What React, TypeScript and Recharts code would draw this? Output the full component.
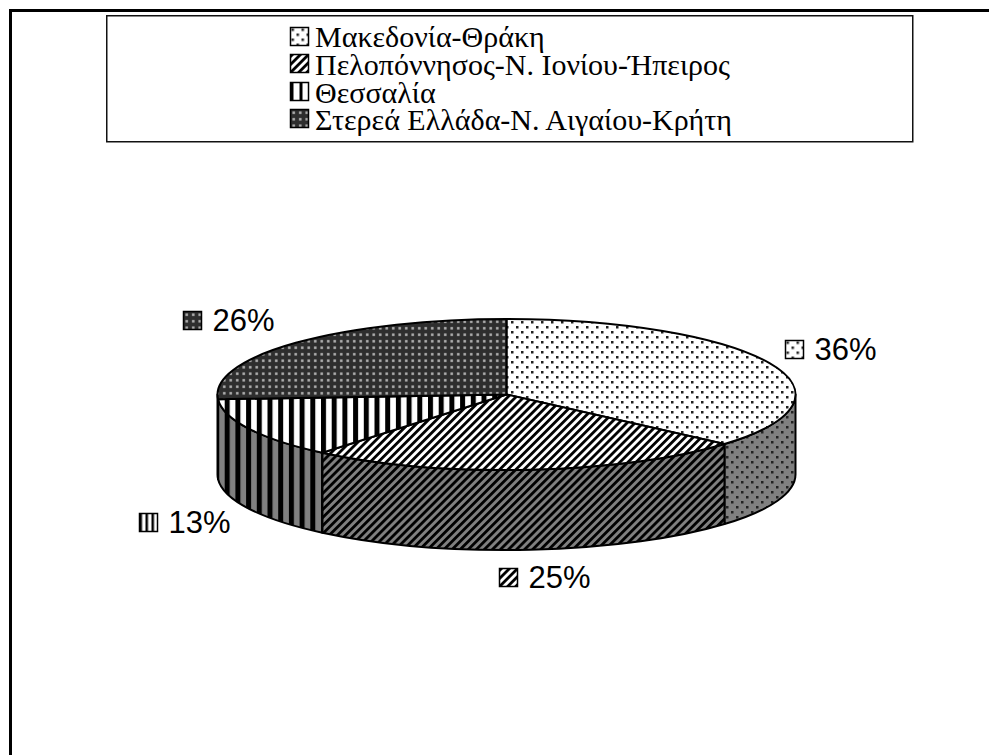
import React from "react";
import { Legend, Pie, PieChart } from "recharts";

const regions = [
  "Μακεδονία-Θράκη",
  "Πελοπόννησος-Ν. Ιονίου-Ήπειρος",
  "Θεσσαλία",
  "Στερεά Ελλάδα-Ν. Αιγαίου-Κρήτη",
];
// the labels show them rounded
const shares = [36.4, 24.6, 13, 26];

const data = regions.map((name, index) => ({ name, value: shares[index], index }));

const CX = 506.5;
const CY = 394.5;
const RX = 289;
const SQUASH = 75.5 / 289;
const DEPTH = 80;
const RAD = Math.PI / 180;

// top-left of each percent swatch, measured from the middle of its slice
const LABEL_OFFSET = [
  [15, -23],
  [-31, 98],
  [-110, 84],
  [-113, -32],
];

const pt = (cx: number, cy: number, r: number, deg: number) => [
  cx + r * Math.cos(deg * RAD),
  cy - r * SQUASH * Math.sin(deg * RAD),
];

// one slice of the flattened pie: the top face and, if it faces us, the wall
function Slice3D(props: any) {
  const { cx, cy, outerRadius: r, startAngle, endAngle, index } = props;
  const [x0, y0] = pt(cx, cy, r, startAngle);
  const [x1, y1] = pt(cx, cy, r, endAngle);
  const ry = r * SQUASH;
  const large = Math.abs(startAngle - endAngle) > 180 ? 1 : 0;
  const top = `M${cx},${cy}L${x0},${y0}A${r},${ry} 0 ${large} 1 ${x1},${y1}Z`;

  // the front of the pie runs from 0 to -180 in recharts angles
  const wallStart = Math.min(startAngle, 0);
  const wallEnd = Math.max(endAngle, -180);
  let wall = null;
  if (wallStart > wallEnd) {
    const [wx0, wy0] = pt(cx, cy, r, wallStart);
    const [wx1, wy1] = pt(cx, cy, r, wallEnd);
    wall = (
      <path
        d={`M${wx0},${wy0}A${r},${ry} 0 0 1 ${wx1},${wy1}L${wx1},${wy1 + DEPTH}A${r},${ry} 0 0 0 ${wx0},${wy0 + DEPTH}Z`}
        fill={`url(#wall${index})`}
        stroke="#000"
        strokeWidth={2}
        strokeLinejoin="round"
      />
    );
  }
  return (
    <g>
      {wall}
      <path d={top} fill={`url(#top${index})`} stroke="#000" strokeWidth={2} strokeLinejoin="round" />
    </g>
  );
}

// drawn at 0,0 under a translate so the pattern starts at the swatch corner
function Swatch({ x, y, fill }: { x: number; y: number; fill: string }) {
  return (
    <g transform={`translate(${x},${y})`}>
      <rect width={18} height={18} fill={`url(#${fill})`} stroke="#000" strokeWidth={1.5} />
    </g>
  );
}

function PercentLabel(props: any) {
  const { cx, cy, outerRadius, midAngle, value, index } = props;
  const [mx, my] = pt(cx, cy, outerRadius, midAngle);
  const x = Math.round(mx + LABEL_OFFSET[index][0]) + 0.5;
  const y = Math.round(my + LABEL_OFFSET[index][1]) + 0.5;
  return (
    <g>
      <Swatch x={x} y={y} fill={index === 2 ? "label2" : `top${index}`} />
      <text x={x + 29} y={y + 19} fontFamily="Liberation Sans" fontSize={31} fill="#000">
        {Math.round(value)}%
      </text>
    </g>
  );
}

function LegendBox() {
  return (
    <svg width={808} height={128} style={{ display: "block" }}>
      <rect x={0.75} y={0.75} width={806} height={126} fill="#fff" stroke="#111" strokeWidth={1.5} />
      {regions.map((name, i) => (
        <g key={name}>
          <Swatch x={184.5} y={12.5 + Math.round(i * 27.3)} fill={i === 2 ? "legend2" : `top${i}`} />
          <text x={209} y={32 + i * 27.8} fontFamily="Liberation Serif" fontSize={30} fill="#000">
            {name}
          </text>
        </g>
      ))}
    </svg>
  );
}

function Patterns() {
  const dots = (id: string, bg: string) => (
    <pattern id={id} width={10} height={10} patternUnits="userSpaceOnUse">
      <rect width={10} height={10} fill={bg} />
      <rect x={1} y={1} width={2.5} height={2.5} fill="#222" />
      <rect x={6} y={6} width={2.5} height={2.5} fill="#222" />
    </pattern>
  );
  const diagonal = (id: string, bg: string) => (
    <pattern id={id} width={5.7} height={8} patternUnits="userSpaceOnUse" patternTransform="rotate(45)">
      <rect width={5.7} height={8} fill={bg} />
      <rect width={2.8} height={8} fill="#000" />
    </pattern>
  );
  const vertical = (id: string, bg: string, pitch: number, bar: number) => (
    <pattern id={id} width={pitch} height={8} patternUnits="userSpaceOnUse">
      <rect width={pitch} height={8} fill={bg} />
      <rect width={bar} height={8} fill="#000" />
    </pattern>
  );
  return (
    <defs>
      {dots("top0", "#fff")}
      {dots("wall0", "#808080")}
      {diagonal("top1", "#fff")}
      {diagonal("wall1", "#808080")}
      {vertical("top2", "#fff", 10.7, 5)}
      {vertical("wall2", "#808080", 10.7, 5)}
      {vertical("label2", "#fff", 6, 2.5)}
      {vertical("legend2", "#fff", 9, 3)}
      <pattern id="top3" width={6.5} height={6.5} patternUnits="userSpaceOnUse">
        <rect width={6.5} height={6.5} fill="#2e2e2e" />
        <rect x={2} y={2} width={2.5} height={2.5} fill="#b5b5b5" />
      </pattern>
      <pattern id="wall3" width={6.5} height={6.5} patternUnits="userSpaceOnUse">
        <rect width={6.5} height={6.5} fill="#222" />
        <rect x={2} y={2} width={2.5} height={2.5} fill="#808080" />
      </pattern>
    </defs>
  );
}

export default function App() {
  return (
    <div style={{ position: "absolute", left: 0, top: 0, width: 989, height: 755, overflow: "hidden", background: "#fff" }}>
      <div style={{ position: "absolute", left: 9, top: 9, width: 980, height: 746, borderTop: "3px solid #000", borderLeft: "3px solid #000", boxSizing: "border-box" }} />
      <PieChart width={989} height={755} margin={{ top: 0, right: 0, bottom: 0, left: 0 }} style={{ position: "absolute", left: 0, top: 0 }}>
        <Patterns />
        <Legend
          layout="horizontal"
          align="center"
          verticalAlign="middle"
          wrapperStyle={{ left: 106, top: 15, right: "auto", bottom: "auto", width: 808, height: 128 }}
          content={() => <LegendBox />}
        />
        <Pie
          data={data}
          dataKey="value"
          nameKey="name"
          cx={CX}
          cy={CY}
          innerRadius={0}
          outerRadius={RX}
          startAngle={90}
          endAngle={-270}
          shape={Slice3D}
          label={PercentLabel}
          labelLine={false}
          isAnimationActive={false}
        />
      </PieChart>
    </div>
  );
}
